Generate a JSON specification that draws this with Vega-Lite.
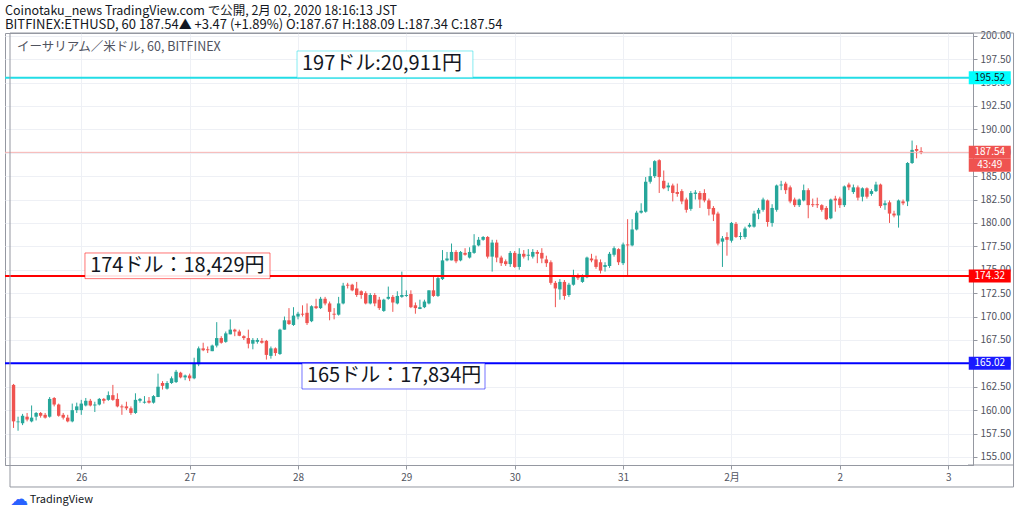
{
  "$schema": "https://vega.github.io/schema/vega-lite/v6.json",
  "width": 968,
  "height": 432,
  "autosize": {"type": "none"},
  "padding": {"left": 5, "top": 33, "right": 51, "bottom": 49},
  "background": "white",
  "title": {
    "text": "Coinotaku_news TradingView.com で公開, 2月 02, 2020 18:16:13 JST",
    "subtitle": "BITFINEX:ETHUSD, 60 187.54▲ +3.47 (+1.89%) O:187.67 H:188.09 L:187.34 C:187.54",
    "anchor": "start",
    "frame": "group",
    "font": "Noto Sans CJK JP",
    "subtitleFont": "Noto Sans CJK JP",
    "fontSize": 12.5,
    "subtitleFontSize": 13,
    "fontWeight": "normal",
    "color": "#131722",
    "subtitleColor": "#131722",
    "offset": -1,
    "subtitlePadding": 1
  },
  "config": {
    "font": "Noto Sans CJK JP",
    "view": {"stroke": "#9598a1"},
    "axis": {
      "domainColor": "#9598a1",
      "tickColor": "#9598a1",
      "gridColor": "#eef0f5",
      "labelColor": "#50535e",
      "labelFontSize": 10,
      "tickSize": 4,
      "labelPadding": 3,
      "labelOverlap": false
    }
  },
  "datasets": {
    "candles": [
      {"d":"2020-01-25T09:00","o":162.7,"h":162.8,"l":158.1,"c":158.8},
      {"d":"2020-01-25T10:00","o":158.7,"h":159.3,"l":157.8,"c":158.8},
      {"d":"2020-01-25T11:00","o":158.6,"h":159.6,"l":158.4,"c":159.4},
      {"d":"2020-01-25T12:00","o":159.3,"h":159.7,"l":158.8,"c":159.0},
      {"d":"2020-01-25T13:00","o":158.8,"h":160.5,"l":158.7,"c":159.2},
      {"d":"2020-01-25T14:00","o":159.3,"h":159.8,"l":158.9,"c":159.7},
      {"d":"2020-01-25T15:00","o":159.7,"h":159.8,"l":159.2,"c":159.4},
      {"d":"2020-01-25T16:00","o":159.5,"h":159.7,"l":159.1,"c":159.2},
      {"d":"2020-01-25T17:00","o":159.3,"h":161.4,"l":159.2,"c":161.2},
      {"d":"2020-01-25T18:00","o":161.3,"h":161.4,"l":160.4,"c":160.6},
      {"d":"2020-01-25T19:00","o":160.6,"h":160.7,"l":159.3,"c":159.4},
      {"d":"2020-01-25T20:00","o":159.5,"h":159.7,"l":159.0,"c":159.2},
      {"d":"2020-01-25T21:00","o":159.2,"h":159.5,"l":158.7,"c":158.8},
      {"d":"2020-01-25T22:00","o":158.8,"h":160.7,"l":158.7,"c":160.0},
      {"d":"2020-01-25T23:00","o":160.0,"h":160.8,"l":159.7,"c":160.4},
      {"d":"2020-01-26T00:00","o":160.0,"h":161.1,"l":159.5,"c":160.7},
      {"d":"2020-01-26T01:00","o":160.5,"h":161.3,"l":160.4,"c":161.0},
      {"d":"2020-01-26T02:00","o":161.0,"h":161.2,"l":160.4,"c":160.5},
      {"d":"2020-01-26T03:00","o":160.5,"h":160.9,"l":159.8,"c":160.6},
      {"d":"2020-01-26T04:00","o":160.6,"h":161.3,"l":160.5,"c":161.2},
      {"d":"2020-01-26T05:00","o":161.2,"h":161.3,"l":160.7,"c":161.0},
      {"d":"2020-01-26T06:00","o":161.1,"h":162.0,"l":161.0,"c":161.6},
      {"d":"2020-01-26T07:00","o":161.6,"h":162.7,"l":161.0,"c":161.1},
      {"d":"2020-01-26T08:00","o":161.2,"h":161.8,"l":160.3,"c":160.4},
      {"d":"2020-01-26T09:00","o":160.4,"h":160.6,"l":159.5,"c":160.3},
      {"d":"2020-01-26T10:00","o":160.4,"h":160.9,"l":160.0,"c":160.2},
      {"d":"2020-01-26T11:00","o":160.2,"h":160.4,"l":159.5,"c":159.7},
      {"d":"2020-01-26T12:00","o":159.7,"h":161.8,"l":159.6,"c":161.1},
      {"d":"2020-01-26T13:00","o":161.0,"h":161.3,"l":160.8,"c":161.2},
      {"d":"2020-01-26T14:00","o":160.8,"h":161.5,"l":160.7,"c":160.9},
      {"d":"2020-01-26T15:00","o":161.0,"h":161.4,"l":160.7,"c":160.8},
      {"d":"2020-01-26T16:00","o":160.8,"h":161.6,"l":160.7,"c":161.5},
      {"d":"2020-01-26T17:00","o":161.4,"h":163.9,"l":161.4,"c":162.5},
      {"d":"2020-01-26T18:00","o":162.9,"h":163.1,"l":162.2,"c":162.6},
      {"d":"2020-01-26T19:00","o":162.3,"h":163.1,"l":162.2,"c":162.9},
      {"d":"2020-01-26T20:00","o":162.9,"h":163.6,"l":162.8,"c":163.4},
      {"d":"2020-01-26T21:00","o":163.0,"h":164.3,"l":162.9,"c":164.1},
      {"d":"2020-01-26T22:00","o":164.0,"h":164.1,"l":163.4,"c":163.5},
      {"d":"2020-01-26T23:00","o":163.5,"h":163.8,"l":163.2,"c":163.7},
      {"d":"2020-01-27T00:00","o":163.7,"h":163.9,"l":163.1,"c":163.4},
      {"d":"2020-01-27T01:00","o":163.4,"h":165.6,"l":163.3,"c":165.0},
      {"d":"2020-01-27T02:00","o":164.9,"h":166.8,"l":164.7,"c":166.6},
      {"d":"2020-01-27T03:00","o":166.6,"h":167.2,"l":166.3,"c":166.4},
      {"d":"2020-01-27T04:00","o":166.5,"h":166.8,"l":166.1,"c":166.4},
      {"d":"2020-01-27T05:00","o":166.3,"h":167.0,"l":166.3,"c":166.9},
      {"d":"2020-01-27T06:00","o":166.9,"h":169.4,"l":166.7,"c":167.7},
      {"d":"2020-01-27T07:00","o":167.7,"h":167.9,"l":167.1,"c":167.2},
      {"d":"2020-01-27T08:00","o":167.3,"h":168.4,"l":167.2,"c":168.2},
      {"d":"2020-01-27T09:00","o":168.1,"h":169.7,"l":168.1,"c":168.6},
      {"d":"2020-01-27T10:00","o":168.6,"h":168.7,"l":167.9,"c":168.4},
      {"d":"2020-01-27T11:00","o":168.4,"h":168.6,"l":167.9,"c":167.95},
      {"d":"2020-01-27T12:00","o":167.9,"h":168.0,"l":167.5,"c":167.7},
      {"d":"2020-01-27T13:00","o":167.7,"h":168.6,"l":166.6,"c":167.1},
      {"d":"2020-01-27T14:00","o":167.1,"h":167.7,"l":166.5,"c":167.5},
      {"d":"2020-01-27T15:00","o":167.3,"h":167.7,"l":167.1,"c":167.5},
      {"d":"2020-01-27T16:00","o":167.4,"h":167.7,"l":167.1,"c":167.2},
      {"d":"2020-01-27T17:00","o":167.4,"h":167.5,"l":165.4,"c":165.9},
      {"d":"2020-01-27T18:00","o":165.8,"h":166.8,"l":165.5,"c":166.6},
      {"d":"2020-01-27T19:00","o":166.6,"h":166.7,"l":165.8,"c":166.1},
      {"d":"2020-01-27T20:00","o":166.0,"h":168.7,"l":165.9,"c":168.6},
      {"d":"2020-01-27T21:00","o":168.6,"h":170.0,"l":168.6,"c":169.6},
      {"d":"2020-01-27T22:00","o":169.6,"h":170.9,"l":169.1,"c":169.2},
      {"d":"2020-01-27T23:00","o":169.1,"h":171.0,"l":169.0,"c":170.1},
      {"d":"2020-01-28T00:00","o":170.0,"h":170.5,"l":169.7,"c":170.3},
      {"d":"2020-01-28T01:00","o":170.3,"h":171.2,"l":170.0,"c":170.2},
      {"d":"2020-01-28T02:00","o":170.4,"h":171.4,"l":169.1,"c":169.3},
      {"d":"2020-01-28T03:00","o":169.5,"h":171.2,"l":169.4,"c":171.1},
      {"d":"2020-01-28T04:00","o":171.1,"h":171.9,"l":170.8,"c":170.9},
      {"d":"2020-01-28T05:00","o":170.9,"h":172.1,"l":170.8,"c":171.9},
      {"d":"2020-01-28T06:00","o":171.9,"h":172.1,"l":171.2,"c":171.4},
      {"d":"2020-01-28T07:00","o":171.4,"h":171.6,"l":169.6,"c":170.5},
      {"d":"2020-01-28T08:00","o":170.3,"h":170.9,"l":169.7,"c":170.2},
      {"d":"2020-01-28T09:00","o":170.2,"h":172.1,"l":170.1,"c":171.4},
      {"d":"2020-01-28T10:00","o":171.4,"h":173.6,"l":171.3,"c":173.3},
      {"d":"2020-01-28T11:00","o":173.4,"h":173.6,"l":173.0,"c":173.3},
      {"d":"2020-01-28T12:00","o":173.4,"h":173.5,"l":172.7,"c":172.8},
      {"d":"2020-01-28T13:00","o":173.0,"h":173.7,"l":172.1,"c":172.3},
      {"d":"2020-01-28T14:00","o":172.7,"h":172.8,"l":171.9,"c":172.3},
      {"d":"2020-01-28T15:00","o":172.5,"h":172.7,"l":171.3,"c":171.4},
      {"d":"2020-01-28T16:00","o":171.4,"h":172.5,"l":171.3,"c":172.3},
      {"d":"2020-01-28T17:00","o":172.3,"h":172.5,"l":171.1,"c":171.4},
      {"d":"2020-01-28T18:00","o":171.8,"h":172.1,"l":170.7,"c":170.9},
      {"d":"2020-01-28T19:00","o":170.6,"h":171.9,"l":170.5,"c":171.8},
      {"d":"2020-01-28T20:00","o":171.9,"h":173.2,"l":171.8,"c":172.1},
      {"d":"2020-01-28T21:00","o":172.1,"h":172.3,"l":170.5,"c":171.5},
      {"d":"2020-01-28T22:00","o":171.4,"h":172.7,"l":171.3,"c":172.2},
      {"d":"2020-01-28T23:00","o":172.1,"h":174.8,"l":172.0,"c":172.3},
      {"d":"2020-01-29T00:00","o":172.2,"h":172.8,"l":172.1,"c":172.3},
      {"d":"2020-01-29T01:00","o":172.4,"h":172.8,"l":170.9,"c":171.0},
      {"d":"2020-01-29T02:00","o":171.2,"h":171.5,"l":170.3,"c":170.9},
      {"d":"2020-01-29T03:00","o":170.8,"h":171.8,"l":170.8,"c":171.0},
      {"d":"2020-01-29T04:00","o":171.0,"h":171.8,"l":170.9,"c":171.6},
      {"d":"2020-01-29T05:00","o":171.4,"h":172.8,"l":171.3,"c":172.8},
      {"d":"2020-01-29T06:00","o":172.8,"h":174.3,"l":172.1,"c":172.2},
      {"d":"2020-01-29T07:00","o":172.2,"h":174.3,"l":172.1,"c":174.1},
      {"d":"2020-01-29T08:00","o":174.0,"h":177.1,"l":173.9,"c":176.0},
      {"d":"2020-01-29T09:00","o":176.0,"h":176.9,"l":175.9,"c":176.2},
      {"d":"2020-01-29T10:00","o":176.0,"h":177.8,"l":176.0,"c":176.9},
      {"d":"2020-01-29T11:00","o":176.9,"h":177.1,"l":175.7,"c":175.9},
      {"d":"2020-01-29T12:00","o":176.0,"h":177.0,"l":175.9,"c":176.9},
      {"d":"2020-01-29T13:00","o":176.8,"h":177.3,"l":176.5,"c":176.6},
      {"d":"2020-01-29T14:00","o":176.3,"h":177.4,"l":176.2,"c":176.9},
      {"d":"2020-01-29T15:00","o":176.8,"h":178.8,"l":176.7,"c":177.6},
      {"d":"2020-01-29T16:00","o":177.6,"h":178.5,"l":177.5,"c":178.2},
      {"d":"2020-01-29T17:00","o":178.2,"h":178.6,"l":178.1,"c":178.5},
      {"d":"2020-01-29T18:00","o":178.5,"h":178.6,"l":176.2,"c":176.4},
      {"d":"2020-01-29T19:00","o":176.4,"h":178.2,"l":174.8,"c":177.9},
      {"d":"2020-01-29T20:00","o":177.9,"h":178.2,"l":175.8,"c":176.3},
      {"d":"2020-01-29T21:00","o":176.3,"h":176.5,"l":175.4,"c":175.7},
      {"d":"2020-01-29T22:00","o":175.9,"h":176.1,"l":175.4,"c":175.6},
      {"d":"2020-01-29T23:00","o":175.6,"h":177.0,"l":175.3,"c":176.8},
      {"d":"2020-01-30T00:00","o":176.8,"h":177.0,"l":175.2,"c":175.3},
      {"d":"2020-01-30T01:00","o":175.3,"h":177.3,"l":175.0,"c":176.7},
      {"d":"2020-01-30T02:00","o":176.7,"h":177.1,"l":176.2,"c":176.4},
      {"d":"2020-01-30T03:00","o":176.5,"h":177.2,"l":176.0,"c":176.6},
      {"d":"2020-01-30T04:00","o":176.4,"h":177.2,"l":176.2,"c":176.9},
      {"d":"2020-01-30T05:00","o":176.9,"h":177.1,"l":175.7,"c":176.7},
      {"d":"2020-01-30T06:00","o":176.8,"h":177.3,"l":175.7,"c":176.2},
      {"d":"2020-01-30T07:00","o":176.1,"h":176.5,"l":175.3,"c":175.7},
      {"d":"2020-01-30T08:00","o":175.8,"h":176.0,"l":173.4,"c":173.6},
      {"d":"2020-01-30T09:00","o":173.6,"h":173.8,"l":171.0,"c":173.0},
      {"d":"2020-01-30T10:00","o":172.9,"h":174.0,"l":171.8,"c":173.7},
      {"d":"2020-01-30T11:00","o":173.7,"h":173.9,"l":171.8,"c":172.2},
      {"d":"2020-01-30T12:00","o":172.3,"h":173.6,"l":172.1,"c":173.4},
      {"d":"2020-01-30T13:00","o":173.4,"h":175.0,"l":173.3,"c":174.4},
      {"d":"2020-01-30T14:00","o":174.4,"h":174.6,"l":173.9,"c":174.1},
      {"d":"2020-01-30T15:00","o":173.7,"h":174.5,"l":173.6,"c":174.3},
      {"d":"2020-01-30T16:00","o":174.2,"h":176.4,"l":174.1,"c":176.3},
      {"d":"2020-01-30T17:00","o":176.2,"h":176.7,"l":175.8,"c":176.0},
      {"d":"2020-01-30T18:00","o":176.1,"h":176.5,"l":175.1,"c":175.3},
      {"d":"2020-01-30T19:00","o":175.8,"h":176.1,"l":174.6,"c":174.9},
      {"d":"2020-01-30T20:00","o":175.3,"h":175.8,"l":174.8,"c":175.5},
      {"d":"2020-01-30T21:00","o":175.4,"h":176.9,"l":175.2,"c":176.7},
      {"d":"2020-01-30T22:00","o":176.6,"h":177.5,"l":176.4,"c":177.3},
      {"d":"2020-01-30T23:00","o":177.2,"h":177.3,"l":175.5,"c":175.8},
      {"d":"2020-01-31T00:00","o":175.7,"h":177.9,"l":175.5,"c":177.7},
      {"d":"2020-01-31T01:00","o":177.7,"h":180.4,"l":174.3,"c":177.6},
      {"d":"2020-01-31T02:00","o":177.6,"h":180.4,"l":177.5,"c":179.3},
      {"d":"2020-01-31T03:00","o":179.3,"h":181.3,"l":179.2,"c":181.1},
      {"d":"2020-01-31T04:00","o":181.1,"h":182.1,"l":181.0,"c":181.3},
      {"d":"2020-01-31T05:00","o":181.2,"h":184.9,"l":181.1,"c":184.4},
      {"d":"2020-01-31T06:00","o":184.4,"h":185.9,"l":184.2,"c":185.0},
      {"d":"2020-01-31T07:00","o":185.0,"h":186.7,"l":184.8,"c":186.6},
      {"d":"2020-01-31T08:00","o":186.7,"h":186.8,"l":183.2,"c":184.9},
      {"d":"2020-01-31T09:00","o":184.5,"h":185.6,"l":183.6,"c":183.7},
      {"d":"2020-01-31T10:00","o":183.8,"h":184.3,"l":183.4,"c":184.0},
      {"d":"2020-01-31T11:00","o":184.0,"h":184.2,"l":182.3,"c":183.2},
      {"d":"2020-01-31T12:00","o":183.3,"h":184.2,"l":182.8,"c":183.1},
      {"d":"2020-01-31T13:00","o":183.4,"h":183.6,"l":182.0,"c":182.3},
      {"d":"2020-01-31T14:00","o":182.5,"h":182.7,"l":181.1,"c":181.4},
      {"d":"2020-01-31T15:00","o":181.5,"h":183.4,"l":181.3,"c":183.2},
      {"d":"2020-01-31T16:00","o":183.1,"h":183.5,"l":182.5,"c":183.25},
      {"d":"2020-01-31T17:00","o":183.2,"h":183.4,"l":181.6,"c":182.5},
      {"d":"2020-01-31T18:00","o":183.2,"h":183.6,"l":182.2,"c":182.4},
      {"d":"2020-01-31T19:00","o":182.4,"h":182.6,"l":180.8,"c":181.5},
      {"d":"2020-01-31T20:00","o":181.6,"h":181.8,"l":180.2,"c":180.9},
      {"d":"2020-01-31T21:00","o":181.0,"h":181.2,"l":177.6,"c":177.8},
      {"d":"2020-01-31T22:00","o":178.0,"h":178.6,"l":175.3,"c":178.35},
      {"d":"2020-01-31T23:00","o":178.5,"h":179.0,"l":176.5,"c":178.2},
      {"d":"2020-02-01T00:00","o":178.1,"h":180.1,"l":177.9,"c":180.0},
      {"d":"2020-02-01T01:00","o":179.9,"h":180.1,"l":178.4,"c":178.5},
      {"d":"2020-02-01T02:00","o":178.5,"h":179.0,"l":178.2,"c":178.6},
      {"d":"2020-02-01T03:00","o":178.5,"h":179.6,"l":178.3,"c":179.4},
      {"d":"2020-02-01T04:00","o":179.6,"h":180.0,"l":179.5,"c":179.8},
      {"d":"2020-02-01T05:00","o":179.6,"h":181.3,"l":179.5,"c":181.0},
      {"d":"2020-02-01T06:00","o":181.0,"h":181.6,"l":180.4,"c":181.4},
      {"d":"2020-02-01T07:00","o":181.4,"h":182.7,"l":181.2,"c":182.5},
      {"d":"2020-02-01T08:00","o":182.4,"h":182.5,"l":179.6,"c":180.1},
      {"d":"2020-02-01T09:00","o":180.0,"h":182.0,"l":179.6,"c":181.6},
      {"d":"2020-02-01T10:00","o":181.4,"h":184.1,"l":181.2,"c":184.0},
      {"d":"2020-02-01T11:00","o":184.0,"h":184.5,"l":183.5,"c":184.1},
      {"d":"2020-02-01T12:00","o":184.2,"h":184.4,"l":183.1,"c":183.5},
      {"d":"2020-02-01T13:00","o":183.8,"h":184.0,"l":182.1,"c":182.3},
      {"d":"2020-02-01T14:00","o":182.5,"h":182.7,"l":181.7,"c":181.9},
      {"d":"2020-02-01T15:00","o":181.9,"h":182.6,"l":181.7,"c":182.5},
      {"d":"2020-02-01T16:00","o":182.4,"h":184.1,"l":182.3,"c":183.5},
      {"d":"2020-02-01T17:00","o":183.5,"h":183.7,"l":180.5,"c":181.9},
      {"d":"2020-02-01T18:00","o":182.0,"h":182.6,"l":181.7,"c":181.9},
      {"d":"2020-02-01T19:00","o":182.0,"h":182.7,"l":181.6,"c":181.9},
      {"d":"2020-02-01T20:00","o":181.9,"h":182.0,"l":181.2,"c":181.4},
      {"d":"2020-02-01T21:00","o":181.6,"h":181.8,"l":180.3,"c":180.4},
      {"d":"2020-02-01T22:00","o":180.5,"h":182.6,"l":180.4,"c":182.5},
      {"d":"2020-02-01T23:00","o":182.6,"h":182.9,"l":181.2,"c":182.4},
      {"d":"2020-02-02T00:00","o":182.6,"h":182.8,"l":181.6,"c":181.9},
      {"d":"2020-02-02T01:00","o":181.9,"h":184.0,"l":181.7,"c":183.9},
      {"d":"2020-02-02T02:00","o":184.1,"h":184.3,"l":183.5,"c":183.8},
      {"d":"2020-02-02T03:00","o":183.3,"h":184.1,"l":183.1,"c":183.8},
      {"d":"2020-02-02T04:00","o":183.8,"h":184.0,"l":182.4,"c":182.7},
      {"d":"2020-02-02T05:00","o":182.8,"h":183.8,"l":182.3,"c":183.7},
      {"d":"2020-02-02T06:00","o":183.7,"h":183.8,"l":182.6,"c":182.8},
      {"d":"2020-02-02T07:00","o":183.1,"h":183.6,"l":182.9,"c":183.4},
      {"d":"2020-02-02T08:00","o":183.4,"h":184.4,"l":183.3,"c":184.1},
      {"d":"2020-02-02T09:00","o":184.1,"h":184.2,"l":181.6,"c":181.8},
      {"d":"2020-02-02T10:00","o":181.9,"h":182.4,"l":181.4,"c":182.1},
      {"d":"2020-02-02T11:00","o":182.2,"h":182.4,"l":180.0,"c":181.0},
      {"d":"2020-02-02T12:00","o":181.0,"h":181.3,"l":180.6,"c":180.8},
      {"d":"2020-02-02T13:00","o":180.8,"h":182.5,"l":179.5,"c":182.4},
      {"d":"2020-02-02T14:00","o":182.3,"h":182.5,"l":181.9,"c":182.1},
      {"d":"2020-02-02T15:00","o":182.3,"h":186.5,"l":181.8,"c":186.4},
      {"d":"2020-02-02T16:00","o":186.4,"h":188.8,"l":186.3,"c":187.8},
      {"d":"2020-02-02T17:00","o":187.9,"h":188.3,"l":186.9,"c":187.7},
      {"d":"2020-02-02T18:00","o":187.67,"h":188.09,"l":187.34,"c":187.54}
    ],
    "levels": [
      {"lvl":"197","price":195.52,"label":"197ドル:20,911円","from":"2020-01-27T23:47","to":"2020-01-29T14:44","top":198.37,"bot":195.52,"tx":"2020-01-28T00:53","mid":196.98},
      {"lvl":"174","price":174.32,"label":"174ドル：18,429円","from":"2020-01-26T00:49","to":"2020-01-27T17:48","top":176.79,"bot":174.05,"tx":"2020-01-26T01:58","mid":175.40},
      {"lvl":"165","price":165.02,"label":"165ドル：17,834円","from":"2020-01-28T00:53","to":"2020-01-29T17:25","top":165.02,"bot":162.26,"tx":"2020-01-28T01:58","mid":163.65}
    ],
    "tags": [
      {"key":"a","txt":"195.52","p":195.52},
      {"key":"b","txt":"187.54","p":187.54},
      {"key":"c","txt":"43:49","p":186.17},
      {"key":"d","txt":"174.32","p":174.32},
      {"key":"e","txt":"165.02","p":165.02}
    ]
  },
  "layer": [
    {
      "data": {"name": "candles"},
      "mark": {"type": "rule", "strokeWidth": 1},
      "encoding": {
        "x": {
          "field": "d", "type": "temporal", "title": null,
          "scale": {"domain": [
            {"year": 2020, "month": "jan", "date": 25, "hours": 8, "minutes": 13},
            {"year": 2020, "month": "feb", "date": 3, "hours": 4, "minutes": 23}
          ]},
          "axis": {
            "values": [
              {"year": 2020, "month": "jan", "date": 26},
              {"year": 2020, "month": "jan", "date": 27},
              {"year": 2020, "month": "jan", "date": 28},
              {"year": 2020, "month": "jan", "date": 29},
              {"year": 2020, "month": "jan", "date": 30},
              {"year": 2020, "month": "jan", "date": 31},
              {"year": 2020, "month": "feb", "date": 1},
              {"year": 2020, "month": "feb", "date": 2},
              {"year": 2020, "month": "feb", "date": 3}
            ],
            "labelExpr": "date(datum.value) == 1 ? '2月' : '' + date(datum.value)",
            "grid": true
          }
        },
        "y": {
          "field": "l", "type": "quantitative", "title": null,
          "scale": {"domain": [154.14, 200.29], "zero": false, "nice": false},
          "axis": {
            "orient": "right",
            "values": [155, 157.5, 160, 162.5, 165, 167.5, 170, 172.5, 175, 177.5, 180, 182.5, 185, 187.5, 190, 192.5, 195, 197.5, 200],
            "tickCount": 19,
            "labelOverlap": false,
            "labelSeparation": 0,
            "format": ".2f",
            "grid": true
          }
        },
        "y2": {"field": "h"},
        "color": {"condition": {"test": "datum.c >= datum.o", "value": "#26a69a"}, "value": "#ef5350"}
      }
    },
    {
      "data": {"name": "candles"},
      "mark": {"type": "bar", "size": 3.4},
      "encoding": {
        "x": {"field": "d", "type": "temporal", "title": null},
        "y": {"field": "o", "type": "quantitative", "title": null},
        "y2": {"field": "c"},
        "color": {"condition": {"test": "datum.c >= datum.o", "value": "#26a69a"}, "value": "#ef5350"}
      }
    },
    {
      "data": {"values": [{}]},
      "mark": {"type": "rule", "stroke": "#f6b3b2", "strokeWidth": 1},
      "encoding": {"y": {"datum": 187.54}}
    },
    {
      "data": {"name": "levels"},
      "mark": {"type": "rule", "strokeWidth": 2},
      "encoding": {
        "y": {"field": "price", "type": "quantitative", "title": null},
        "stroke": {"field": "lvl", "type": "nominal", "legend": null,
          "scale": {"domain": ["197", "174", "165"], "range": ["#22dde6", "#ff0000", "#0000ff"]}}
      }
    },
    {
      "data": {"name": "levels"},
      "mark": {"type": "rect", "fill": "white", "fillOpacity": 0.9, "strokeWidth": 1, "strokeOpacity": 0.55},
      "encoding": {
        "x": {"field": "from", "type": "temporal", "title": null},
        "x2": {"field": "to"},
        "y": {"field": "top", "type": "quantitative", "title": null},
        "y2": {"field": "bot"},
        "stroke": {"field": "lvl", "type": "nominal", "legend": null}
      }
    },
    {
      "data": {"name": "levels"},
      "mark": {"type": "text", "align": "left", "baseline": "middle", "fontSize": 20, "color": "#131722", "font": "Noto Sans CJK JP"},
      "encoding": {
        "x": {"field": "tx", "type": "temporal", "title": null},
        "y": {"field": "mid", "type": "quantitative", "title": null},
        "text": {"field": "label"}
      }
    },
    {
      "data": {"name": "tags"},
      "mark": {"type": "tick", "orient": "horizontal", "size": 42, "thickness": 13, "opacity": 1},
      "encoding": {
        "x": {"datum": {"year": 2020, "month": "feb", "date": 3, "hours": 9, "minutes": 12}},
        "y": {"field": "p", "type": "quantitative", "title": null},
        "color": {"field": "key", "type": "nominal", "legend": null,
          "scale": {"domain": ["a", "b", "c", "d", "e"], "range": ["#00ffff", "#ef5350", "#ef5350", "#ff0000", "#1a1aff"]}}
      }
    },
    {
      "data": {"name": "tags"},
      "mark": {"type": "text", "align": "center", "baseline": "middle", "fontSize": 10},
      "encoding": {
        "x": {"datum": {"year": 2020, "month": "feb", "date": 3, "hours": 9, "minutes": 12}},
        "y": {"field": "p", "type": "quantitative", "title": null},
        "text": {"field": "txt"},
        "color": {"condition": {"test": "datum.key == 'a'", "value": "#131722"}, "value": "white"}
      }
    },
    {
      "data": {"values": [{}]},
      "mark": {"type": "text", "align": "left", "baseline": "middle", "fontSize": 12.5, "color": "#50535e"},
      "encoding": {
        "x": {"datum": {"year": 2020, "month": "jan", "date": 25, "hours": 9, "minutes": 45}},
        "y": {"datum": 198.79},
        "text": {"value": "イーサリアム／米ドル, 60, BITFINEX"}
      }
    },
    {
      "data": {"values": [{}]},
      "mark": {"type": "rect", "fillOpacity": 0, "stroke": "#9598a1", "strokeWidth": 1},
      "encoding": {
        "x": {"datum": {"year": 2020, "month": "jan", "date": 25, "hours": 8, "minutes": 13}},
        "x2": {"datum": {"year": 2020, "month": "feb", "date": 3, "hours": 14, "minutes": 28}},
        "y": {"datum": 200.29},
        "y2": {"datum": 151.79}
      }
    },
    {
      "data": {"values": [{}]},
      "mark": {"type": "rule", "stroke": "#9598a1", "strokeWidth": 1},
      "encoding": {
        "x": {"datum": {"year": 2020, "month": "feb", "date": 3, "hours": 4, "minutes": 23}},
        "x2": {"datum": {"year": 2020, "month": "feb", "date": 3, "hours": 14, "minutes": 28}},
        "y": {"datum": 154.14}
      }
    },
    {
      "data": {"values": [{}]},
      "mark": {"type": "text", "align": "center", "baseline": "middle", "fontSize": 18, "color": "#2962ff", "font": "DejaVu Sans"},
      "encoding": {
        "x": {"datum": {"year": 2020, "month": "jan", "date": 25, "hours": 10, "minutes": 12}},
        "y": {"datum": 150.41},
        "text": {"value": "☁"}
      }
    },
    {
      "data": {"values": [{}]},
      "mark": {"type": "text", "align": "left", "baseline": "middle", "fontSize": 11, "color": "#131722"},
      "encoding": {
        "x": {"datum": {"year": 2020, "month": "jan", "date": 25, "hours": 12, "minutes": 36}},
        "y": {"datum": 150.41},
        "text": {"value": "TradingView"}
      }
    }
  ]
}
